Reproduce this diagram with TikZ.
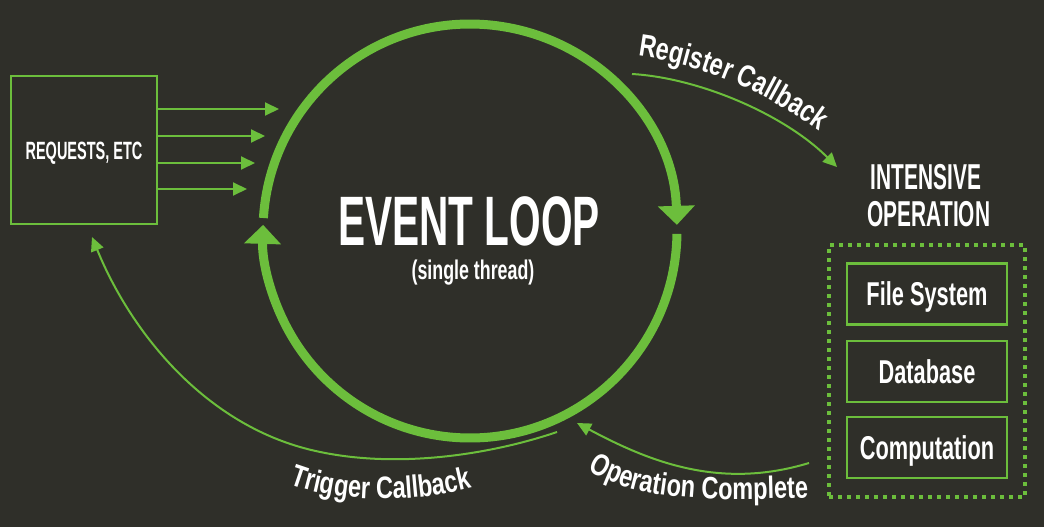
\documentclass[tikz,border=0pt]{standalone}
\usepackage{fontspec}
\setmainfont{Liberation Sans}
\newfontfamily\capsfont[FakeStretch=0.58]{Liberation Sans}
\newfontfamily\lowfont[FakeStretch=0.66]{Liberation Sans}
\newfontfamily\lblfont[FakeStretch=0.76]{Liberation Sans}
\usetikzlibrary{arrows.meta,decorations.text}
\definecolor{bg}{RGB}{47,47,41}
\definecolor{grn}{RGB}{108,190,60}
\tikzset{
  box/.style={draw=grn, line width=2.5pt, inner sep=0pt, text=white},
  conn/.style={draw=grn, line width=2pt, -{Triangle[length=14pt,width=13pt]}},
  loop/.style={draw=grn, line width=9pt, -{Triangle[length=19pt,width=36pt]}},
  lbl/.style={text=white, inner sep=0pt},
}
\begin{document}
\begin{tikzpicture}[x=1pt,y=-1pt]
\useasboundingbox (0,0) rectangle (1044,527);
\fill[bg] (0,0) rectangle (1044,527);

% event loop circle
\coordinate (c) at (470,231);
\draw[loop] (c) ++(183.6:207) arc[start angle=183.6, end angle=358.3, radius=207];
\draw[loop] (c) ++(0.8:207) arc[start angle=0.8, end angle=181.7, radius=207];
\node[lbl, anchor=base] (ev) at (469,245) {\capsfont\bfseries\fontsize{70}{70}\selectfont EVENT LOOP};
\node[lbl, anchor=base] (st) at (473,279) {\lowfont\bfseries\fontsize{27}{27}\selectfont (single thread)};

% requests
\node[box, minimum width=146pt, minimum height=148pt, text height=18pt, text depth=0pt] (req) at (84,150)
  {\capsfont\bfseries\fontsize{25}{25}\selectfont REQUESTS, ETC};
\coordinate (t1) at (279,109);
\coordinate (t2) at (265,136);
\coordinate (t3) at (255,163);
\coordinate (t4) at (247,189);
\draw[conn] (req.east |- t1) -- (t1);
\draw[conn] (req.east |- t2) -- (t2);
\draw[conn] (req.east |- t3) -- (t3);
\draw[conn] (req.east |- t4) -- (t4);

% intensive operation
\node[lbl, anchor=base] (io1) at (926,189) {\capsfont\bfseries\fontsize{36}{36}\selectfont INTENSIVE};
\node[lbl, anchor=base] (io2) at (929,226) {\capsfont\bfseries\fontsize{36}{36}\selectfont OPERATION};
\node[draw=grn, line width=4pt, dash pattern=on 4pt off 5pt, minimum width=196pt, minimum height=252pt, inner sep=0pt] (ops) at (927,371) {};
\node[box, minimum width=160pt, minimum height=61pt, text height=23.6pt, text depth=0pt] (fs) at (927,294)
  {\lowfont\bfseries\fontsize{33}{33}\selectfont File System};
\node[box, minimum width=160pt, minimum height=61pt, text height=23.6pt, text depth=0pt] (db) at (927,371.5)
  {\lowfont\bfseries\fontsize{33}{33}\selectfont Database};
\node[box, minimum width=160pt, minimum height=61pt, text height=23.6pt, text depth=0pt] (cp) at (927,447.5)
  {\lowfont\bfseries\fontsize{33}{33}\selectfont Computation};

% register callback
\coordinate (rc1) at (632,74);
\coordinate (rc2) at (837,167);
\draw[conn] (rc1) .. controls (700,78) and (785,115) .. (rc2);
\path[decorate, decoration={text along path, text color=white, text align=left,
  text={|\lblfont\bfseries\fontsize{31}{31}\selectfont|Register Callback}}]
  (638,56) .. controls (700,64) and (775,92) .. (850,155);

% trigger callback
\coordinate (tc1) at (557,432);
\coordinate (tc2) at (92,237);
\draw[conn] (tc1) .. controls (480,458) and (380,470) .. (300,447) .. controls (200,418) and (130,330) .. (tc2);
\path[decorate, decoration={text along path, text color=white, text align=left,
  text={|\lblfont\bfseries\fontsize{31}{31}\selectfont|Trigger Callback}}]
  (290,484) .. controls (330,500) and (420,510) .. (510,476);

% operation complete
\coordinate (oc1) at (809,463);
\coordinate (oc2) at (577,423);
\draw[conn] (oc1) .. controls (720,490) and (650,462) .. (oc2);
\path[decorate, decoration={text along path, text color=white, text align=left,
  text={|\lblfont\bfseries\fontsize{31}{31}\selectfont|Operation Complete}}]
  (588,470) .. controls (630,495) and (680,505) .. (840,496);
\end{tikzpicture}
\end{document}
